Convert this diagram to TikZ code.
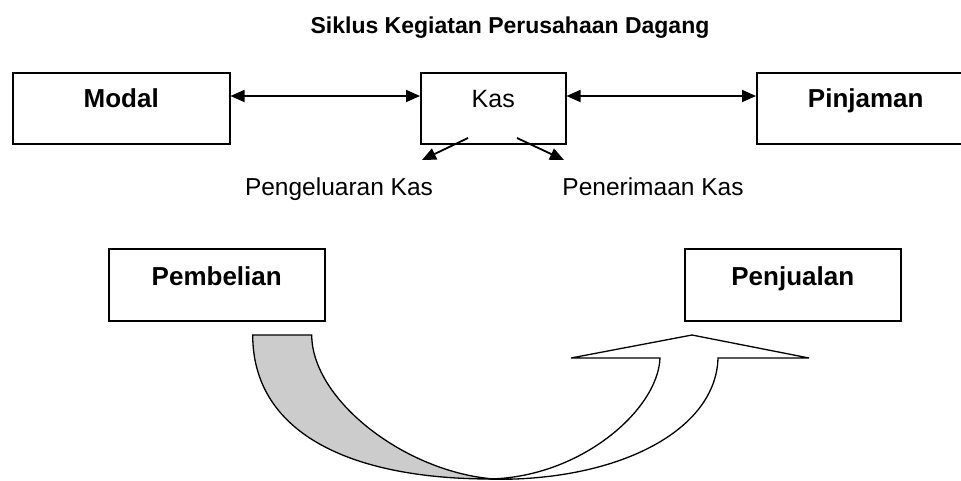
\documentclass[tikz,border=0pt]{standalone}
\usepackage{fontspec}
\setmainfont{Liberation Sans}
\usetikzlibrary{arrows.meta}
\definecolor{bandgray}{RGB}{204,204,204}
\newcommand{\txtsize}{\fontsize{24.5}{29}\selectfont}
\newcommand{\boxsize}{\fontsize{26}{31}\selectfont}
\newcommand{\headsize}{\fontsize{23}{28}\selectfont}
\begin{document}
\begin{tikzpicture}[x=1pt,y=-1pt,
  font=\txtsize,
  box/.style={draw, line width=1.5pt, rectangle, inner xsep=0pt, inner ysep=0pt, anchor=north west},
  upper/.style={text height=35pt, text depth=36pt},
  lower/.style={text height=37pt, text depth=35pt},
  boldtext/.style={font=\boxsize\bfseries},
  caption/.style={anchor=base, inner sep=0pt},
  tip/.tip={Triangle[length=14pt,width=12pt]},
  link/.style={line width=1.8pt, -tip},
  twoway/.style={line width=1.8pt, tip-tip},
  band/.style={line width=1.3pt, line join=miter}]
\useasboundingbox (0,0) rectangle (961,480);
\clip (0,0) rectangle (961,480);

% heading
\node[caption, font=\headsize\bfseries] (title) at (510,33) {Siklus Kegiatan Perusahaan Dagang};

% top row
\node[box, upper, boldtext, minimum width=217pt] (modal) at (12,72) {Modal};
\node[box, upper, font=\fontsize{25}{30}\selectfont, minimum width=145pt] (kas) at (420,72) {Kas};
\node[box, upper, boldtext, minimum width=218pt] (pinjaman) at (756,72) {Pinjaman};

\coordinate (row) at (0,96);
\draw[twoway] (modal.east |- row) -- (kas.west |- row);
\draw[twoway] (kas.east |- row) -- (pinjaman.west |- row);

% cash flows out of / into Kas
\node[caption] (keluar) at (339,195) {Pengeluaran Kas};
\node[caption] (terima) at (653,195) {Penerimaan Kas};
\coordinate (outA) at (468,138);
\coordinate (outB) at (422,160);
\coordinate (inA) at (517,138);
\coordinate (inB) at (564,160);
\draw[link] (outA) -- (outB);
\draw[link] (inA) -- (inB);

% lower row
\node[box, lower, boldtext, minimum width=216pt] (beli) at (108,248) {Pembelian};
\node[box, lower, boldtext, minimum width=216pt] (jual) at (684,248) {Penjualan};

% curved band from purchase to sale
\filldraw[band, fill=bandgray]
  (252.7,335) -- (311.7,335)
  .. controls (312,400) and (405,472) .. (494,479)
  .. controls (345,479.5) and (252.7,430) .. cycle;
\filldraw[band, fill=white]
  (488,479) .. controls (580,478) and (658,410) .. (660,358)
  -- (571,358) -- (692,335) -- (809,358) -- (718,358)
  .. controls (716,430) and (620,480) .. (496,479.3) -- cycle;
\end{tikzpicture}
\end{document}
